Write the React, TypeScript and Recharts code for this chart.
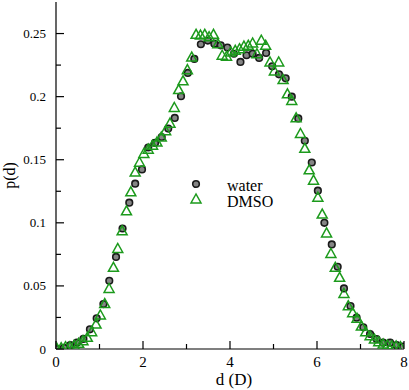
import { ScatterChart, Scatter, XAxis, YAxis, Legend } from 'recharts'

const waterD = [
  0.03, 0.18, 0.33, 0.48, 0.63, 0.78, 0.935, 1.09, 1.225, 1.38, 1.53, 1.685, 1.82, 1.977,
  2.12, 2.276, 2.43, 2.58, 2.73, 2.874, 3.03, 3.18, 3.33, 3.49, 3.64, 3.786, 3.94, 4.09,
  4.24, 4.38, 4.52, 4.67, 4.83, 4.97, 5.126, 5.28, 5.42, 5.57, 5.72, 5.88, 6.02, 6.17,
  6.34, 6.475, 6.62, 6.77, 6.91, 7.065, 7.22, 7.37, 7.52, 7.68, 7.83, 7.98,
]
const waterP = [
  0.0, 0.001, 0.003, 0.005, 0.008, 0.0156, 0.0243, 0.0356, 0.054, 0.073, 0.0955, 0.116, 0.131, 0.1423,
  0.1597, 0.1633, 0.168, 0.1747, 0.1831, 0.2003, 0.2188, 0.2299, 0.2415, 0.2444, 0.242, 0.2407, 0.2389, 0.234,
  0.2275, 0.2328, 0.234, 0.2307, 0.2346, 0.224, 0.2177, 0.2145, 0.2, 0.1827, 0.165, 0.1478, 0.1255, 0.1,
  0.0829, 0.0652, 0.048, 0.034, 0.0248, 0.0172, 0.0119, 0.0079, 0.005, 0.005, 0.003, 0.002,
]

const dmsoD = [
  0.02, 0.12, 0.22, 0.32, 0.42, 0.52, 0.62, 0.72, 0.82, 0.92, 1.02, 1.12, 1.22, 1.32, 1.42, 1.52,
  1.62, 1.72, 1.82, 1.92, 2.02, 2.12, 2.22, 2.32, 2.42, 2.52, 2.62, 2.72, 2.82, 2.92, 3.02, 3.12,
  3.22, 3.32, 3.42, 3.52, 3.62, 3.72, 3.82, 3.92, 4.02, 4.12, 4.22, 4.32, 4.42, 4.52, 4.62, 4.72,
  4.82, 4.92, 5.02, 5.12, 5.22, 5.32, 5.42, 5.52, 5.62, 5.72, 5.82, 5.92, 6.02, 6.12, 6.22, 6.32,
  6.42, 6.52, 6.62, 6.72, 6.82, 6.92, 7.02, 7.12, 7.22, 7.32, 7.42, 7.52, 7.62, 7.72, 7.82, 7.92,
]
const dmsoP = [
  0.0005, 0.001, 0.0018, 0.0018, 0.003, 0.0045, 0.0066, 0.0093, 0.0137, 0.0198, 0.027, 0.036, 0.048, 0.0647, 0.0797, 0.0937,
  0.1095, 0.1246, 0.1402, 0.148, 0.155, 0.1584, 0.1615, 0.164, 0.168, 0.173, 0.179, 0.1914, 0.2056, 0.2125, 0.2214, 0.2314,
  0.2494, 0.2488, 0.2494, 0.2475, 0.2494, 0.242, 0.2328, 0.232, 0.2354, 0.2367, 0.238, 0.24, 0.2407, 0.2425, 0.234, 0.2447,
  0.2407, 0.2275, 0.2204, 0.2275, 0.2135, 0.2022, 0.197, 0.1832, 0.1708, 0.159, 0.142, 0.1338, 0.1203, 0.1069, 0.092, 0.0757,
  0.0647, 0.0568, 0.044, 0.0343, 0.0288, 0.0243, 0.0182, 0.0137, 0.0105, 0.0079, 0.0058, 0.004, 0.0032, 0.0026, 0.0024, 0.0018,
]

const xTicks = [0, 1, 2, 3, 4, 5, 6, 7, 8]
const xLabels = ['0', '', '2', '', '4', '', '6', '', '8']
const yTicks = [0, 0.025, 0.05, 0.075, 0.1, 0.125, 0.15, 0.175, 0.2, 0.225, 0.25]
const yLabels = ['0', '', '0.05', '', '0.1', '', '0.15', '', '0.2', '', '0.25']

const water = waterD.map((d, i) => ({ d, p: waterP[i] }))
const dmso = dmsoD.map((d, i) => ({ d, p: dmsoP[i] }))

const FONT = '"Liberation Serif", "Times New Roman", serif'
const GREEN = '#1c9a1c'

const BottomTick = ({ x, y, index }: any) => {
  const label = xLabels[index]
  return (
    <g>
      <line x1={x} x2={x} y1={y} y2={y - (label ? 8 : 5)} stroke="#000" strokeWidth={1.2} />
      {label && (
        <text x={x} y={y + 18} textAnchor="middle" fontSize={15} fontFamily={FONT} fill="#000">
          {label}
        </text>
      )}
    </g>
  )
}

const TopTick = ({ x, y, index }: any) => (
  <line x1={x} x2={x} y1={y} y2={y + (xLabels[index] ? 8 : 5)} stroke="#000" strokeWidth={1.2} />
)

const LeftTick = ({ x, y, index }: any) => {
  const label = yLabels[index]
  return (
    <g>
      <line x1={x} x2={x + (label ? 8 : 5)} y1={y} y2={y} stroke="#000" strokeWidth={1.2} />
      {label && (
        <text x={x - 10} y={y} dy="0.35em" textAnchor="end" fontSize={13} fontFamily={FONT} fill="#000">
          {label}
        </text>
      )}
    </g>
  )
}

const RightTick = ({ x, y, index }: any) => (
  <line x1={x} x2={x - (yLabels[index] ? 8 : 5)} y1={y} y2={y} stroke="#000" strokeWidth={1.2} />
)

const Dot = ({ cx, cy }: any) => (
  <circle cx={cx} cy={cy} r={3.3} fill="#858585" stroke="#1a1a1a" strokeWidth={1.6} />
)

const Tri = ({ cx, cy }: any) => (
  <path
    d={`M${cx},${cy - 5} L${cx - 5},${cy + 4} L${cx + 5},${cy + 4} Z`}
    fill="none"
    stroke={GREEN}
    strokeWidth={1.5}
  />
)

const renderLegend = () => (
  <svg width={110} height={40} style={{ display: 'block' }}>
    <Dot cx={8} cy={9} />
    <text x={39} y={16} fontSize={16} fontFamily={FONT} fill="#000">water</text>
    <Tri cx={8} cy={24} />
    <text x={39} y={31.5} fontSize={16} fontFamily={FONT} fill="#000">DMSO</text>
  </svg>
)

export default function App() {
  return (
    <div style={{ position: 'absolute', left: 0, top: 0 }}>
      <ScatterChart width={409} height={390} margin={{ top: 2, right: 5, bottom: 0, left: 0 }}>
        <XAxis
          dataKey="d"
          type="number"
          domain={[0, 8]}
          ticks={xTicks}
          allowDataOverflow
          height={41}
          tickSize={0}
          tickMargin={0}
          tickLine={false}
          tick={<BottomTick />}
          axisLine={{ stroke: '#000', strokeWidth: 1.2 }}
          label={{
            content: ({ viewBox }: any) => (
              <text x={viewBox.x + viewBox.width / 2 + 4} y={viewBox.y + 36} textAnchor="middle" fontSize={17} fontFamily={FONT} fill="#000">
                d (D)
              </text>
            ),
          }}
        />
        <XAxis
          xAxisId="top"
          orientation="top"
          type="number"
          domain={[0, 8]}
          ticks={xTicks}
          allowDataOverflow
          height={0}
          tickSize={0}
          tickMargin={0}
          tickLine={false}
          tick={<TopTick />}
          axisLine={{ stroke: '#000', strokeWidth: 1.2 }}
        />
        <YAxis
          dataKey="p"
          type="number"
          domain={[0, 0.275]}
          ticks={yTicks}
          allowDataOverflow
          width={56}
          tickSize={0}
          tickMargin={0}
          tickLine={false}
          tick={<LeftTick />}
          axisLine={{ stroke: '#000', strokeWidth: 1.2 }}
          label={{
            content: ({ viewBox }: any) => (
              <text
                x={15}
                y={viewBox.y + viewBox.height / 2}
                transform={`rotate(-90, 15, ${viewBox.y + viewBox.height / 2})`}
                textAnchor="middle"
                fontSize={16}
                fontFamily={FONT}
                fill="#000"
              >
                p(d)
              </text>
            ),
          }}
        />
        <YAxis
          yAxisId="right"
          orientation="right"
          type="number"
          domain={[0, 0.275]}
          ticks={yTicks}
          allowDataOverflow
          width={0}
          tickSize={0}
          tickMargin={0}
          tickLine={false}
          tick={<RightTick />}
          axisLine={{ stroke: '#000', strokeWidth: 1.2 }}
        />
        <Legend
          layout="vertical"
          align="center"
          verticalAlign="middle"
          content={renderLegend}
          wrapperStyle={{ left: 188, top: 175, width: 110 }}
        />
        <Scatter name="water" data={water} shape={<Dot />} isAnimationActive={false} />
        <Scatter name="DMSO" data={dmso} shape={<Tri />} isAnimationActive={false} />
      </ScatterChart>
    </div>
  )
}
